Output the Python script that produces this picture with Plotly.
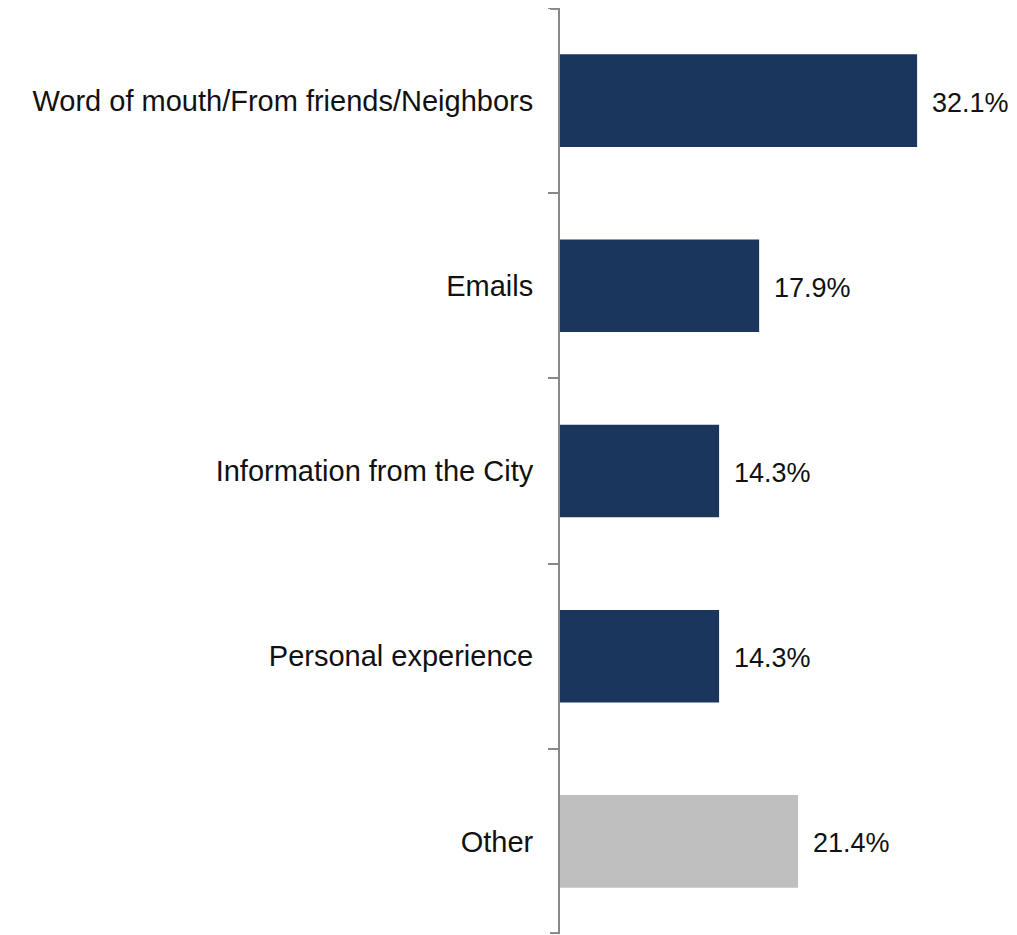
import plotly.graph_objects as go

# Datos del gráfico
categorias = ["Word of mouth/From friends/Neighbors", "Emails", "Information from the City",
              "Personal experience", "Other"]
porcentajes = [32.1, 17.9, 14.3, 14.3, 21.4]
colores = ["#1b365d", "#1b365d", "#1b365d", "#1b365d", "#bfbfbf"]
etiquetas = [f"{v:.1f}%" for v in porcentajes]

fuente = "Liberation Sans, Arial, Helvetica, sans-serif"

fig = go.Figure(go.Bar(
    x=porcentajes,
    y=categorias,
    orientation="h",
    marker=dict(color=colores, line=dict(width=0)),
    hoverinfo="x+y",
))

# Etiquetas de valor a la derecha de cada barra
for cat, val, txt in zip(categorias, porcentajes, etiquetas):
    fig.add_annotation(
        x=val, y=cat, text=txt, showarrow=False,
        xanchor="left", yanchor="middle", xshift=13, yshift=-2,
        font=dict(family=fuente, size=27, color="#111111"),
    )

# Marcas del eje en los extremos superior e inferior
for yb in (0.001, 0.999):
    fig.add_shape(
        type="line", xref="paper", x0=-10 / 445, x1=0,
        yref="paper", y0=yb, y1=yb,
        line=dict(color="#888888", width=2),
    )

fig.update_layout(
    width=1017, height=935,
    margin=dict(l=552, r=20, t=0, b=9),
    paper_bgcolor="white", plot_bgcolor="white",
    bargap=0.5,
    showlegend=False,
    font=dict(family=fuente, size=27, color="#111111"),
)
fig.update_xaxes(range=[0, 40], visible=False)
fig.update_yaxes(
    autorange="reversed",
    showline=True, linecolor="#888888", linewidth=2,
    ticks="outside", tickson="boundaries", ticklen=10, tickwidth=2, tickcolor="#888888",
    ticklabelstandoff=19,
    tickfont=dict(family=fuente, size=29, color="#111111"),
    showgrid=False, zeroline=False,
)

fig.write_html("out.html")
